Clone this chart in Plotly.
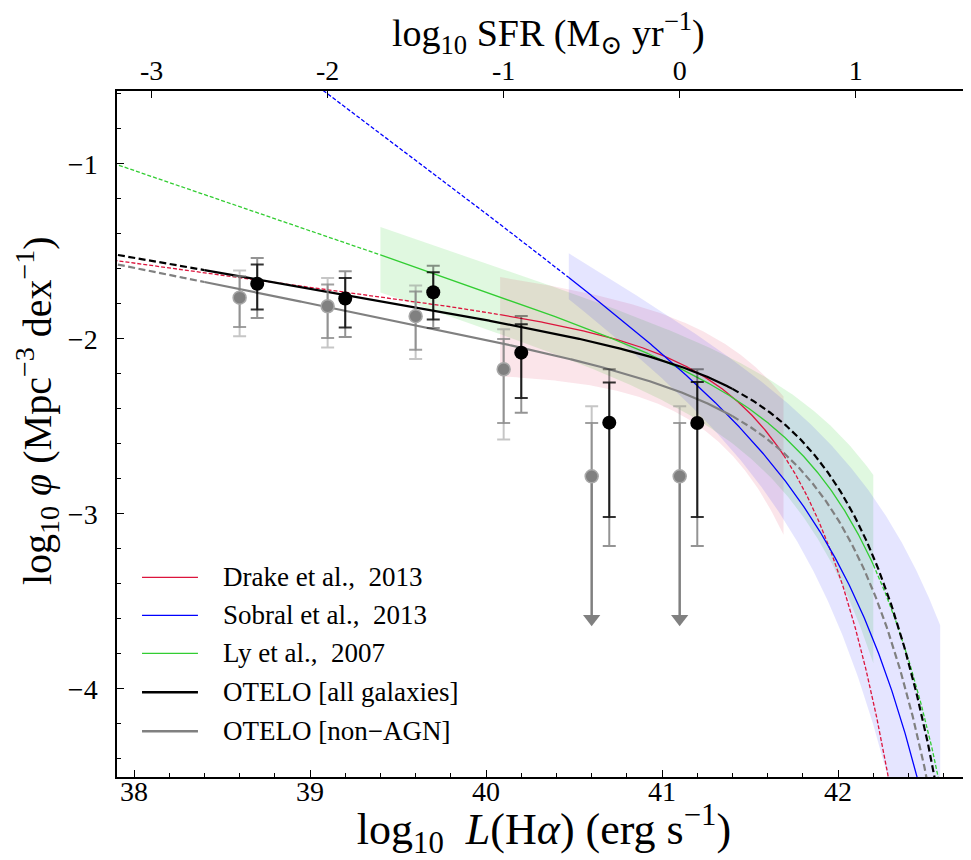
import numpy as np
import plotly.graph_objects as go

# ---------------- data ----------------
# Schechter fits: [log10 phi*, log10 L*, alpha]
drake_params = [-2.408, 41.55, -1.135]
sobral_params = [-3.12, 41.95, -1.758]
ly_params = [-2.752, 41.93, -1.344]
otelo_all_params = [-2.573, 41.85, -1.175]
otelo_nonagn_params = [-2.736, 41.84, -1.203]

# luminosity range covered by each survey (solid part of the curve)
drake_range = [40.08, 41.69]
sobral_range = [40.47, 42.58]
ly_range = [39.40, 42.20]
otelo_all_range = [38.40, 41.40]
otelo_nonagn_range = [38.40, 41.40]

# confidence band edges (Schechter parameters of the envelope)
drake_band_upper = [-2.210, 41.65, -1.135]
drake_band_lower = [-2.554, 41.36, -1.0]
sobral_band_upper = [-2.953, 42.28, -1.60]
sobral_band_lower = [-3.108, 41.78, -1.758]
ly_band_upper = [-2.665, 42.17, -1.34]
ly_band_lower = [-2.901, 41.77, -1.34]

# OTELO data points: all galaxies
all_logL = [38.7, 39.2, 39.7, 40.2, 40.7, 41.2]
all_phi = [-1.685, -1.770, -1.734, -2.079, -2.479, -2.481]
all_in_hi = [-1.576, -1.653, -1.620, -1.917, -2.250, -2.247]
all_in_lo = [-1.833, -1.936, -1.890, -2.338, -3.018, -3.018]
all_out_hi = [-1.538, -1.614, -1.582, -1.870, -2.174, -2.174]
all_out_lo = [-1.881, -1.990, -1.938, -2.422, -3.184, -3.184]

# OTELO data points: non-AGN
nag_logL = [38.6, 39.1, 39.6, 40.1, 40.6, 41.1]
nag_phi = [-1.765, -1.814, -1.871, -2.174, -2.786, -2.786]
nag_in_hi = [-1.643, -1.690, -1.729, -2.001, -2.481, -2.481]
nag_in_lo = [-1.933, -1.995, -2.062, -2.481, None, None]
nag_out_hi = [-1.609, -1.653, -1.696, -1.946, -2.386, -2.386]
nag_out_lo = [-1.986, -2.050, -2.115, -2.576, None, None]
nag_limit_end = [None, None, None, None, -3.60, -3.60]

sfr_offset = 41.1  # log SFR = log L(Halpha) - 41.1
x_range = [37.9034, 42.755]
y_range = [-4.504, -0.584]
sfr_ticks = [-3, -2, -1, 0, 1]
sfr_ticktext = ["-3", "-2", "-1", "0", "1"]
lum_ticks = [38, 39, 40, 41, 42]
phi_ticks = [-4, -3, -2, -1]

x_title = "log<sub>10</sub>  <i>L</i>(H<i>\u03b1</i>) (erg s<sup>\u22121</sup>)"
top_title = "log<sub>10</sub> SFR (M<sub>\u2299</sub> yr<sup>\u22121</sup>)"
y_title = "log<sub>10</sub> <i>\u03c6</i> (Mpc<sup>\u22123</sup> dex<sup>\u22121</sup>)"
legend_labels = ["Drake et al.,  2013", "Sobral et al.,  2013", "Ly et al.,  2007",
                 "OTELO [all galaxies]", "OTELO [non\u2212AGN]"]

# ---------------- helpers ----------------
LN10 = np.log(10.0)


def log_schechter(x, p):
    logphi, logL, alpha = p
    u = x - logL
    return logphi + np.log10(LN10) + (alpha + 1.0) * u - 10.0 ** u / LN10


grid = np.linspace(37.85, 42.80, 1200)

RED = "#dc143c"
BLUE = "#0000ff"
GREEN = "#32cd32"
GRAY = "#808080"
FONT = "Liberation Serif, DejaVu Serif, serif"

fig = go.Figure()


def add_band(rng, up, lo, color):
    xs = np.linspace(rng[0], rng[1], 300)
    yu = log_schechter(xs, up)
    yl = log_schechter(xs, lo)
    fig.add_trace(go.Scatter(
        x=np.concatenate([xs, xs[::-1]]), y=np.concatenate([yu, yl[::-1]]),
        fill="toself", fillcolor=color, line=dict(width=0), mode="lines",
        hoverinfo="skip", showlegend=False))


add_band(ly_range, ly_band_upper, ly_band_lower, "rgba(50,205,50,0.15)")
add_band(drake_range, drake_band_upper, drake_band_lower, "rgba(220,20,60,0.11)")
add_band(sobral_range, sobral_band_upper, sobral_band_lower, "rgba(0,0,255,0.10)")


def add_curve(p, rng, color, width, dash_pat):
    left = grid <= rng[0]
    mid = (grid >= rng[0]) & (grid <= rng[1])
    right = grid >= rng[1]
    xl = np.append(grid[left], rng[0])
    xm = np.concatenate([[rng[0]], grid[mid], [rng[1]]])
    xr = np.concatenate([[rng[1]], grid[right]])
    for xs, dash in ((xl, dash_pat), (xm, "solid"), (xr, dash_pat)):
        fig.add_trace(go.Scatter(x=xs, y=log_schechter(xs, p), mode="lines",
                                 line=dict(color=color, width=width, dash=dash),
                                 hoverinfo="skip", showlegend=False))


add_curve(drake_params, drake_range, RED, 1.3, "4px,2px")
add_curve(ly_params, ly_range, GREEN, 1.3, "4px,2px")
add_curve(sobral_params, sobral_range, BLUE, 1.3, "4px,2px")
add_curve(otelo_nonagn_params, otelo_nonagn_range, GRAY, 2.2, "7px,3.5px")
add_curve(otelo_all_params, otelo_all_range, "black", 2.2, "7px,3.5px")


def err_trace(xs, ys, hi, lo, color, width, capw):
    plus = [h - y if h is not None else 0 for h, y in zip(hi, ys)]
    minus = [y - l if l is not None else 0 for l, y in zip(lo, ys)]
    fig.add_trace(go.Scatter(
        x=xs, y=ys, mode="markers", marker=dict(size=1, color="rgba(0,0,0,0)"),
        error_y=dict(type="data", symmetric=False, array=plus, arrayminus=minus,
                     color=color, thickness=width, width=capw),
        hoverinfo="skip", showlegend=False))


# non-AGN error bars
err_trace(nag_logL, nag_phi, nag_out_hi, nag_out_lo, "rgba(128,128,128,0.45)", 2, 6.5)
err_trace(nag_logL, nag_phi, nag_in_hi, nag_in_lo, "rgba(128,128,128,0.75)", 2, 6.5)
# upper-limit arrows
lim_x = [x for x, e in zip(nag_logL, nag_limit_end) if e is not None]
lim_y = [y for y, e in zip(nag_phi, nag_limit_end) if e is not None]
lim_e = [e for e in nag_limit_end if e is not None]
fig.add_trace(go.Scatter(
    x=lim_x, y=lim_y, mode="markers", marker=dict(size=1, color="rgba(0,0,0,0)"),
    error_y=dict(type="data", symmetric=False, array=[0] * len(lim_x),
                 arrayminus=[y - e for y, e in zip(lim_y, lim_e)],
                 color=GRAY, thickness=2.5, width=0),
    hoverinfo="skip", showlegend=False))
fig.add_trace(go.Scatter(x=lim_x, y=lim_e, mode="markers",
                         marker=dict(symbol="triangle-down", size=15, color=GRAY, line=dict(width=0)),
                         hoverinfo="skip", showlegend=False))
fig.add_trace(go.Scatter(x=nag_logL, y=nag_phi, mode="markers",
                         marker=dict(size=13, color=GRAY, line=dict(width=1.5, color="#a8a8a8")),
                         hoverinfo="skip", showlegend=False))

# all-galaxy error bars
err_trace(all_logL, all_phi, all_out_hi, all_out_lo, "rgba(0,0,0,0.42)", 2, 6.5)
err_trace(all_logL, all_phi, all_in_hi, all_in_lo, "rgba(0,0,0,0.8)", 2, 6.5)
fig.add_trace(go.Scatter(x=all_logL, y=all_phi, mode="markers",
                         marker=dict(size=14, color="black", line=dict(width=0)),
                         hoverinfo="skip", showlegend=False))

# invisible trace to activate the top SFR axis
fig.add_trace(go.Scatter(x=[sfr_ticks[0]], y=[y_range[0] - 5], xaxis="x2", mode="markers",
                         marker=dict(size=1, color="rgba(0,0,0,0)"),
                         hoverinfo="skip", showlegend=False))

# ---------------- manual legend ----------------
legend_colors = [RED, BLUE, GREEN, "black", GRAY]
legend_widths = [1.3, 1.3, 1.3, 2.4, 2.4]
row_y = [0.2911, 0.2357, 0.1803, 0.1235, 0.0666]
for lab, col, w, yy in zip(legend_labels, legend_colors, legend_widths, row_y):
    fig.add_shape(type="line", xref="paper", yref="paper", x0=0.0293, x1=0.0948,
                  y0=yy, y1=yy, line=dict(color=col, width=w))
    fig.add_annotation(xref="paper", yref="paper", x=0.1218, y=yy, text=lab,
                       showarrow=False, xanchor="left", yanchor="middle",
                       font=dict(family=FONT, size=27, color="black"))

# axis titles placed as annotations (free positioning)
fig.add_annotation(xref="paper", yref="paper", x=0.505, y=1.0, yshift=58, text=top_title,
                   showarrow=False, xanchor="center", yanchor="middle",
                   font=dict(family=FONT, size=38, color="black"))
fig.add_annotation(xref="paper", yref="paper", x=0.0, xshift=-80, y=0.5335, text=y_title,
                   textangle=-90, showarrow=False, xanchor="center", yanchor="middle",
                   font=dict(family=FONT, size=40, color="black"))

axis_common = dict(showgrid=False, zeroline=False, showline=True, linecolor="black",
                   linewidth=1.5, ticks="inside", tickcolor="black", tickwidth=1.2,
                   ticklen=7, automargin=False,
                   tickfont=dict(family=FONT, size=28, color="black"))

# the page body adds an 8px offset, so the figure is 8px smaller than the window
fig.update_layout(
    template="none",
    width=963, height=852,
    margin=dict(l=109, r=0, t=83, b=83, autoexpand=False),
    paper_bgcolor="white", plot_bgcolor="white",
    showlegend=False,
    xaxis=dict(range=x_range, tickmode="array", tickvals=lum_ticks,
               minor=dict(dtick=0.2, ticks="inside", ticklen=4, tickcolor="black", tickwidth=1),
               ticklabelstandoff=-11,
               title=dict(text=x_title, font=dict(family=FONT, size=44, color="black"), standoff=2),
               **axis_common),
    xaxis2=dict(range=[x_range[0] - sfr_offset, x_range[1] - sfr_offset], overlaying="x",
                side="top", anchor="y", tickmode="array", tickvals=sfr_ticks, ticktext=sfr_ticktext,
                ticklabelstandoff=-2, **axis_common),
    yaxis=dict(range=y_range, tickmode="array", tickvals=phi_ticks,
               minor=dict(dtick=0.2, ticks="inside", ticklen=4, tickcolor="black", tickwidth=1),
               ticklabelstandoff=12, **axis_common),
)

fig.write_html("out.html")
